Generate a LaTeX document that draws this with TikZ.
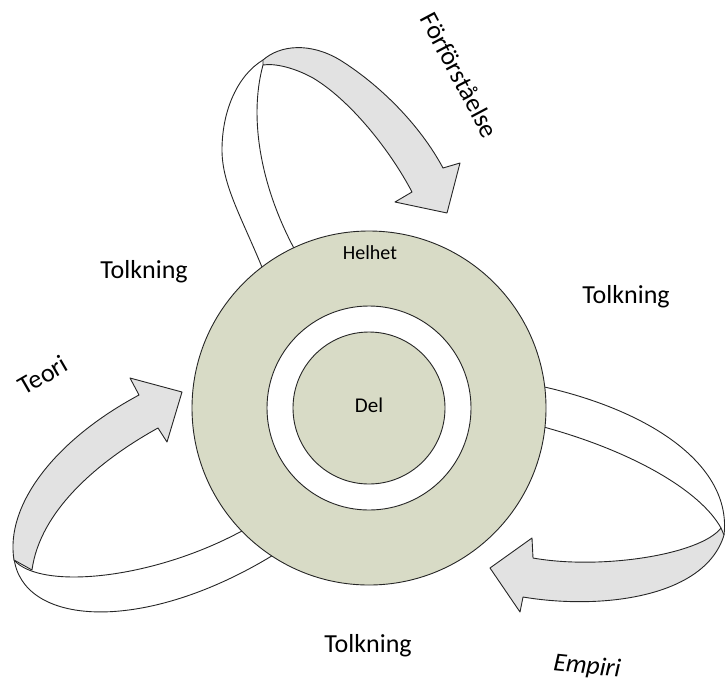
\documentclass[tikz,border=0pt]{standalone}
\usepackage{fontspec}
\setmainfont{Carlito}
\definecolor{sage}{RGB}{216,219,198}
\definecolor{bandgrey}{RGB}{226,226,226}
\tikzset{
  disc/.style={circle, draw=black!85, fill=sage, line width=0.9pt, inner sep=0pt},
  gap/.style={circle, draw=black!85, fill=white, line width=0.9pt, inner sep=0pt},
  loopline/.style={draw=black!85, line width=0.9pt},
  band/.style={draw=black!85, fill=bandgrey, line width=0.9pt, line join=round},
  big/.style={font=\fontsize{26}{30}\selectfont},
  small/.style={font=\fontsize{20}{24}\selectfont, anchor=base}
}

\begin{document}
\begin{tikzpicture}[x=1pt, y=-1pt]
  \useasboundingbox (0,0) rectangle (727,688);
  % back side of the ribbons
  \draw[loopline] (264,272) .. controls (242,218) and (222,185) .. (222,150)
                  .. controls (222,110) and (238,75) .. (263,60);
  \draw[loopline] (296,252) .. controls (262,190) and (248,120) .. (263,65);
  \draw[loopline] (14,560) .. controls (40,590) and (150,580) .. (240,532) -- (252,526);
  \draw[loopline] (14,558) .. controls (22,625) and (140,635) .. (270,557) -- (280,551);
  \draw[loopline] (534,384) -- (540,386) .. controls (650,410) and (732,465) .. (724,535);
  \draw[loopline] (534,424) -- (540,426) .. controls (630,450) and (700,490) .. (721,528);
  % the circles
  \node[disc, minimum size=354pt] (whole) at (369,408) {};
  \node[gap, minimum size=204pt] (ring) at (whole.center) {};
  \node[disc, minimum size=152pt] (part) at (whole.center) {};
  % front side of the ribbons
  \draw[band] (263,60) .. controls (280,45) and (310,42) .. (340,60)
              .. controls (380,85) and (420,125) .. (443,168)
              -- (460,163) -- (447,213) -- (395,202) -- (412,192)
              .. controls (390,150) and (350,100) .. (313,78)
              .. controls (295,68) and (275,63) .. (263,65) -- cycle;
  \draw[band] (14,560) .. controls (5,505) and (55,440) .. (139,395)
              -- (130,378) -- (182,392) -- (167,442) -- (158,428)
              .. controls (100,460) and (40,510) .. (32,570) -- cycle;
  \draw[band] (721,528) .. controls (700,555) and (600,570) .. (533,558)
              -- (532,538) -- (490,568) -- (520,612) -- (523,597)
              .. controls (600,610) and (705,598) .. (724,535) -- cycle;
  % labels
  \node[small] (helhet) at (370,259) {Helhet};
  \node[small, font=\fontsize{21}{24}\selectfont] (del) at (369,412) {Del};
  \node[big, anchor=base] (tolkA) at (144,278) {Tolkning};
  \node[big, anchor=base] (tolkB) at (626,303) {Tolkning};
  \node[big, anchor=base] (tolkC) at (368,652) {Tolkning};
  \node[big, rotate=30] (teori) at (43,375) {Teori};
  \node[big, rotate=-62] (forf) at (460,75) {Förförståelse};
  \node[big, rotate=-6] (empiri) at (587,667) {\itshape Empiri};
\end{tikzpicture}
\end{document}
